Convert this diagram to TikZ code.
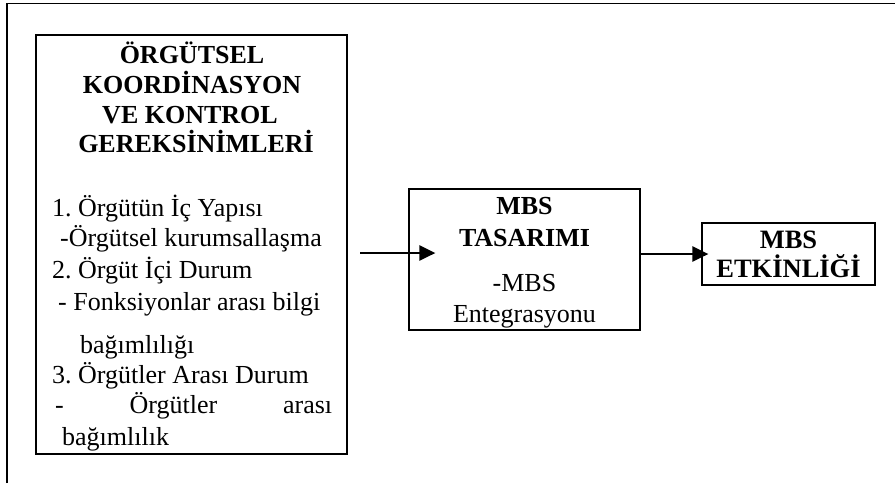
\documentclass[tikz,border=0pt]{standalone}
\usepackage{fontspec}
\setmainfont{Liberation Serif}
\usetikzlibrary{arrows.meta}
\frenchspacing
\tikzset{box/.style = {draw, line width=1.2pt, rectangle, align=center, inner sep=0pt},
         head/.style = {font=\fontsize{26}{30}\selectfont\bfseries, anchor=base, inner sep=0pt},
         item/.style = {font=\fontsize{26}{31}\selectfont, anchor=base west, inner sep=0pt},
         arr/.style = {line width=2.6pt, -{Triangle[length=16pt,width=15pt]}}}

\begin{document}
\begin{tikzpicture}[x=1pt,y=-1pt]
    \useasboundingbox(0,0)rectangle(895,483);
    \draw[line width=1.3pt](7,483)--(7,3.3)--(895,3.3);

    % left block
    \node[box, minimum width=311pt, minimum height=419pt](req)at(191.5,244.5){};
    \node[head](h1)at(192,63){ÖRGÜTSEL};
    \node[head](h2)at(192,93){KOORDİNASYON};
    \node[head](h3)at(190,123){VE KONTROL};
    \node[head](h4)at(196,152){GEREKSİNİMLERİ};
    \node[item](l1)at(52,216){1. Örgütün İç Yapısı};
    \node[item](l2)at(60,246){-Örgütsel kurumsallaşma};
    \node[item](l3)at(52,278){2. Örgüt İçi Durum};
    \node[item](l4)at(58,310){- Fonksiyonlar arası bilgi};
    \node[item](l5)at(80,353){bağımlılığı};
    \node[item](l6)at(52,383){3. Örgütler Arası Durum};
    \node[item](l7)at(55,413){\makebox[277pt][s]{-\hfill Örgütler\hfill arası}};
    \node[item](l8)at(62,445){bağımlılık};

    % design and effectiveness
    \node[box, minimum width=231pt, minimum height=141pt, font=\fontsize{26}{30.5}\selectfont](design)at(524.5,259.5)
        {\rule{0pt}{24pt}{\bfseries MBS}\\[1.5pt]{\bfseries TASARIMI}\\[14.5pt]-MBS\\Entegrasyonu};
    \node[box, minimum width=173pt, minimum height=62pt, font=\fontsize{26.5}{29}\selectfont\bfseries](eff)at(788.5,254){MBS\\ETKİNLİĞİ};

    \coordinate(src)at(360,253);
    \draw[arr](src)--([xshift=27pt]src -| design.west);
    \draw[arr](design.east |- eff)--([xshift=7pt]eff.west);
\end{tikzpicture}
\end{document}
